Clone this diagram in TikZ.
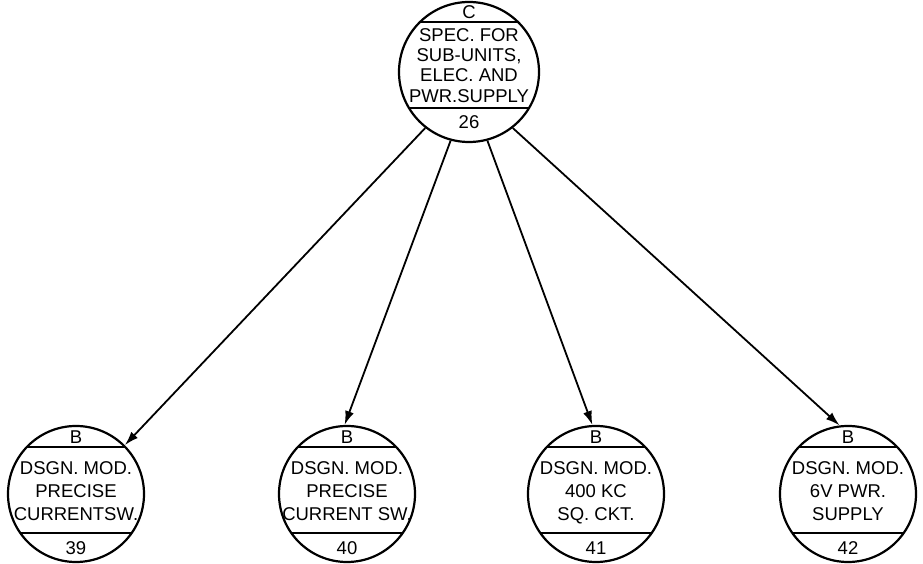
\documentclass[tikz,border=0pt]{standalone}
\usepackage{fontspec}
\setmainfont{Liberation Sans}
\usetikzlibrary{arrows.meta}
\begin{document}
\begin{tikzpicture}[x=1pt,y=1pt,
  bub/.style={circle,draw,line width=2.2pt,inner sep=0pt},
  big/.style={bub,minimum size=140pt},
  small/.style={bub,minimum size=136pt},
  chord/.style={line width=2pt},
  lbl/.style={font=\fontsize{18.5}{20}\selectfont,text height=13pt,text depth=0pt,inner sep=0pt},
  arr/.style={line width=1.8pt,-{Latex[length=14pt,width=9pt]}}]
\useasboundingbox (0,0) rectangle (923,564);
% top circle
\node[big] (tc) at (469,492) {};
\draw[chord] (420,542) -- (518,542);
\draw[chord] (409,456) -- (529,456);
\node[lbl] (tcC) at (469,552) {C};
\node[lbl] (tc1) at (469,529) {SPEC. FOR};
\node[lbl] (tc2) at (469,509) {SUB-UNITS,};
\node[lbl] (tc3) at (469,489) {ELEC. AND};
\node[lbl] (tc4) at (469,468) {PWR.SUPPLY};
\node[lbl] (tcn) at (469,442) {26};
% bottom circles
\foreach \n/\x/\la/\lb/\lc/\num in {b1/76/{DSGN. MOD.}/{PRECISE}/{CURRENTSW.}/39,
  b2/347/{DSGN. MOD.}/{PRECISE}/{CURRENT SW.}/40,
  b3/596/{DSGN. MOD.}/{400 KC}/{SQ. CKT.}/41,
  b4/848/{DSGN. MOD.}/{6V PWR.}/{SUPPLY}/42}{
  \node[small] (\n) at (\x,70) {};
  \draw[chord] ([xshift=-49pt,yshift=47pt]\n.center) -- ([xshift=49pt,yshift=47pt]\n.center);
  \draw[chord] ([xshift=-56pt,yshift=-39pt]\n.center) -- ([xshift=56pt,yshift=-39pt]\n.center);
  \node[lbl] (\n t) at (\x,127) {B};
  \node[lbl] (\n a) at (\x,96) {\la};
  \node[lbl] (\n b) at (\x,73) {\lb};
  \node[lbl] (\n c) at (\x,50) {\lc};
  \node[lbl] (\n n) at (\x,16) {\num};
}
\draw[arr] (tc.232) -- (b1.45);
\draw[arr] (tc.255) -- (b2.92);
\draw[arr] (tc.285) -- (b3.93);
\draw[arr] (tc.308) -- (b4.97);
\end{tikzpicture}
\end{document}
